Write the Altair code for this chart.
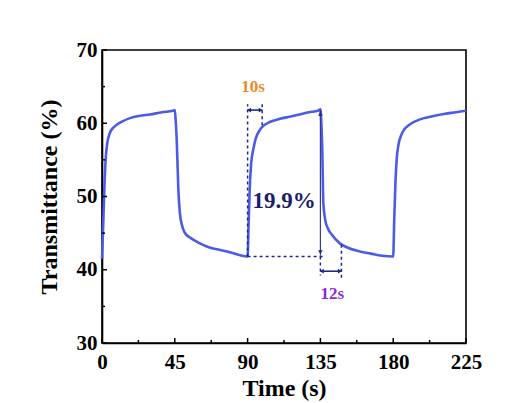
import altair as alt
import pandas as pd

# ---- curve data ----
time = [0, 0.8, 1.6, 2.4, 3.2, 4.9, 7, 9.1, 13, 17.3, 23, 29.7, 37, 43.9, 45,
        45.6, 46.2, 47.2, 48.2, 49.3, 51, 54.4, 58, 62.4, 67, 72.9, 79, 85, 90,
        90.6, 91.4, 92.2, 93.5, 95, 97.6, 100, 104, 110, 116, 122, 128, 133.5, 135,
        135.6, 136.2, 136.8, 138, 139.7, 142, 147, 152, 159.4, 166, 173, 180,
        180.6, 181.4, 182.2, 183.2, 185, 187, 190, 194, 199, 205, 212, 219, 225]
trans = [41.5, 46.5, 52.0, 55.5, 57.2, 58.7, 59.4, 59.8, 60.3, 60.7, 61.0, 61.2, 61.5, 61.7, 61.8,
         60.2, 57.7, 50.9, 47.6, 46.2, 45.1, 44.4, 43.9, 43.4, 43.0, 42.7, 42.4, 42.0, 41.8,
         46.0, 51.5, 54.5, 56.4, 57.9, 59.1, 59.7, 60.2, 60.6, 60.9, 61.2, 61.5, 61.7, 61.9,
         60.0, 56.0, 49.1, 46.8, 45.6, 44.8, 43.6, 43.0, 42.5, 42.2, 41.9, 41.8,
         46.5, 52.0, 55.2, 57.0, 58.4, 59.2, 59.8, 60.3, 60.7, 61.0, 61.3, 61.5, 61.7]

x_major = [0, 45, 90, 135, 180, 225]
x_minor = [22.5, 67.5, 112.5, 157.5, 202.5]
y_major = [30, 40, 50, 60, 70]
y_minor = [35, 45, 55, 65]

# dashed guide segments (t, v, t2, v2)
dash_t = [90, 99, 90, 135, 148]
dash_v = [41.8, 62.6, 41.8, 41.8, 43.4]
dash_t2 = [90, 99, 137, 135, 148]
dash_v2 = [62.6, 59.6, 41.8, 39.2, 38.7]

# arrows (solid segments)
arr_t = [90, 135, 135]
arr_v = [61.8, 39.8, 41.9]
arr_t2 = [99, 148, 135]
arr_v2 = [61.8, 39.8, 61.8]
arr_col = ["#1F2A80", "#1F2A80", "#3B3B8F"]
arr_w = [1.6, 1.6, 1.2]

# arrow heads
head_t = [90.9, 98.1, 135.9, 147.1, 135, 135]
head_v = [61.8, 61.8, 39.8, 39.8, 61.3, 42.4]
head_shape = ["triangle-left", "triangle-right", "triangle-left", "triangle-right",
              "triangle-up", "triangle-down"]

# text annotations
lab_text = ["10s", "19.9%", "12s"]
lab_t = [93.3, 112.6, 142.3]
lab_v = [64.9, 49.4, 36.7]
lab_col = ["#E98B2A", "#1B1F6B", "#8A2BD6"]
lab_size = [17, 23, 17]

W, H = 364, 293
FONT = "Liberation Serif"

xs = alt.Scale(domain=[0, 225], nice=False, zero=False)
ys = alt.Scale(domain=[30, 70], nice=False, zero=False)
XA = alt.Axis(values=x_major, ticks=False, title="Time (s)", labelPadding=8,
              titlePadding=4, labelFlush=False)
YA = alt.Axis(values=y_major, ticks=False, title="Transmittance (%)", labelPadding=5,
              titlePadding=15)


def X(f="t"):
    return alt.X(f"{f}:Q", scale=xs, axis=XA)


def Y(f="v"):
    return alt.Y(f"{f}:Q", scale=ys, axis=YA)


curve_df = pd.DataFrame({"t": time, "v": trans})
curve = alt.Chart(curve_df).mark_line(color="#4A5BE6", strokeWidth=2.6, interpolate="monotone").encode(
    x=X(), y=Y(), order="t:Q")

xticks_major = alt.Chart(pd.DataFrame({"t": x_major})).mark_rule(color="black", strokeWidth=1.5).encode(
    x=X(), y=alt.value(H), y2=alt.value(H - 5))
xticks_minor = alt.Chart(pd.DataFrame({"t": x_minor})).mark_rule(color="black", strokeWidth=1.5).encode(
    x=X(), y=alt.value(H), y2=alt.value(H - 3))
yticks_major = alt.Chart(pd.DataFrame({"v": y_major})).mark_rule(color="black", strokeWidth=1.5).encode(
    y=Y(), x=alt.value(0), x2=alt.value(5))
yticks_minor = alt.Chart(pd.DataFrame({"v": y_minor})).mark_rule(color="black", strokeWidth=1.5).encode(
    y=Y(), x=alt.value(0), x2=alt.value(3))

dash_df = pd.DataFrame({"t": dash_t, "v": dash_v, "t2": dash_t2, "v2": dash_v2})
dashes = alt.Chart(dash_df).mark_rule(color="#1F2A80", strokeWidth=1.5, strokeDash=[3, 3]).encode(
    x=X(), y=Y(), x2="t2:Q", y2="v2:Q")

arr_df = pd.DataFrame({"t": arr_t, "v": arr_v, "t2": arr_t2, "v2": arr_v2,
                       "c": arr_col, "w": arr_w})
arrows = alt.Chart(arr_df).mark_rule().encode(
    x=X(), y=Y(), x2="t2:Q", y2="v2:Q",
    color=alt.Color("c:N", scale=None),
    strokeWidth=alt.StrokeWidth("w:Q", scale=None))

head_df = pd.DataFrame({"t": head_t, "v": head_v, "s": head_shape})
heads = alt.Chart(head_df).mark_point(filled=True, size=22, color="#1F2A80", opacity=1).encode(
    x=X(), y=Y(), shape=alt.Shape("s:N", scale=None))

lab_df = pd.DataFrame({"t": lab_t, "v": lab_v, "txt": lab_text, "c": lab_col, "fs": lab_size})
labels = alt.Chart(lab_df).mark_text(font=FONT, fontWeight="bold", align="center",
                                     baseline="middle").encode(
    x=X(), y=Y(), text="txt:N",
    color=alt.Color("c:N", scale=None),
    size=alt.Size("fs:Q", scale=None))

chart = alt.layer(curve, dashes, arrows, heads, labels,
                  xticks_major, xticks_minor, yticks_major, yticks_minor).properties(
    width=W, height=H,
    padding={"left": 94, "top": 42, "right": 50, "bottom": 58},
    autosize="none",
    background="white",
).configure_view(stroke="black", strokeWidth=1.6).configure_axis(
    grid=False, domainColor="black", domainWidth=1.6,
    labelFont=FONT, labelFontSize=21, labelFontWeight="bold", labelColor="black",
    titleFont=FONT, titleFontSize=24, titleFontWeight="bold", titleColor="black")

chart.save("out.html", embed_options={"renderer": "svg", "actions": False})
